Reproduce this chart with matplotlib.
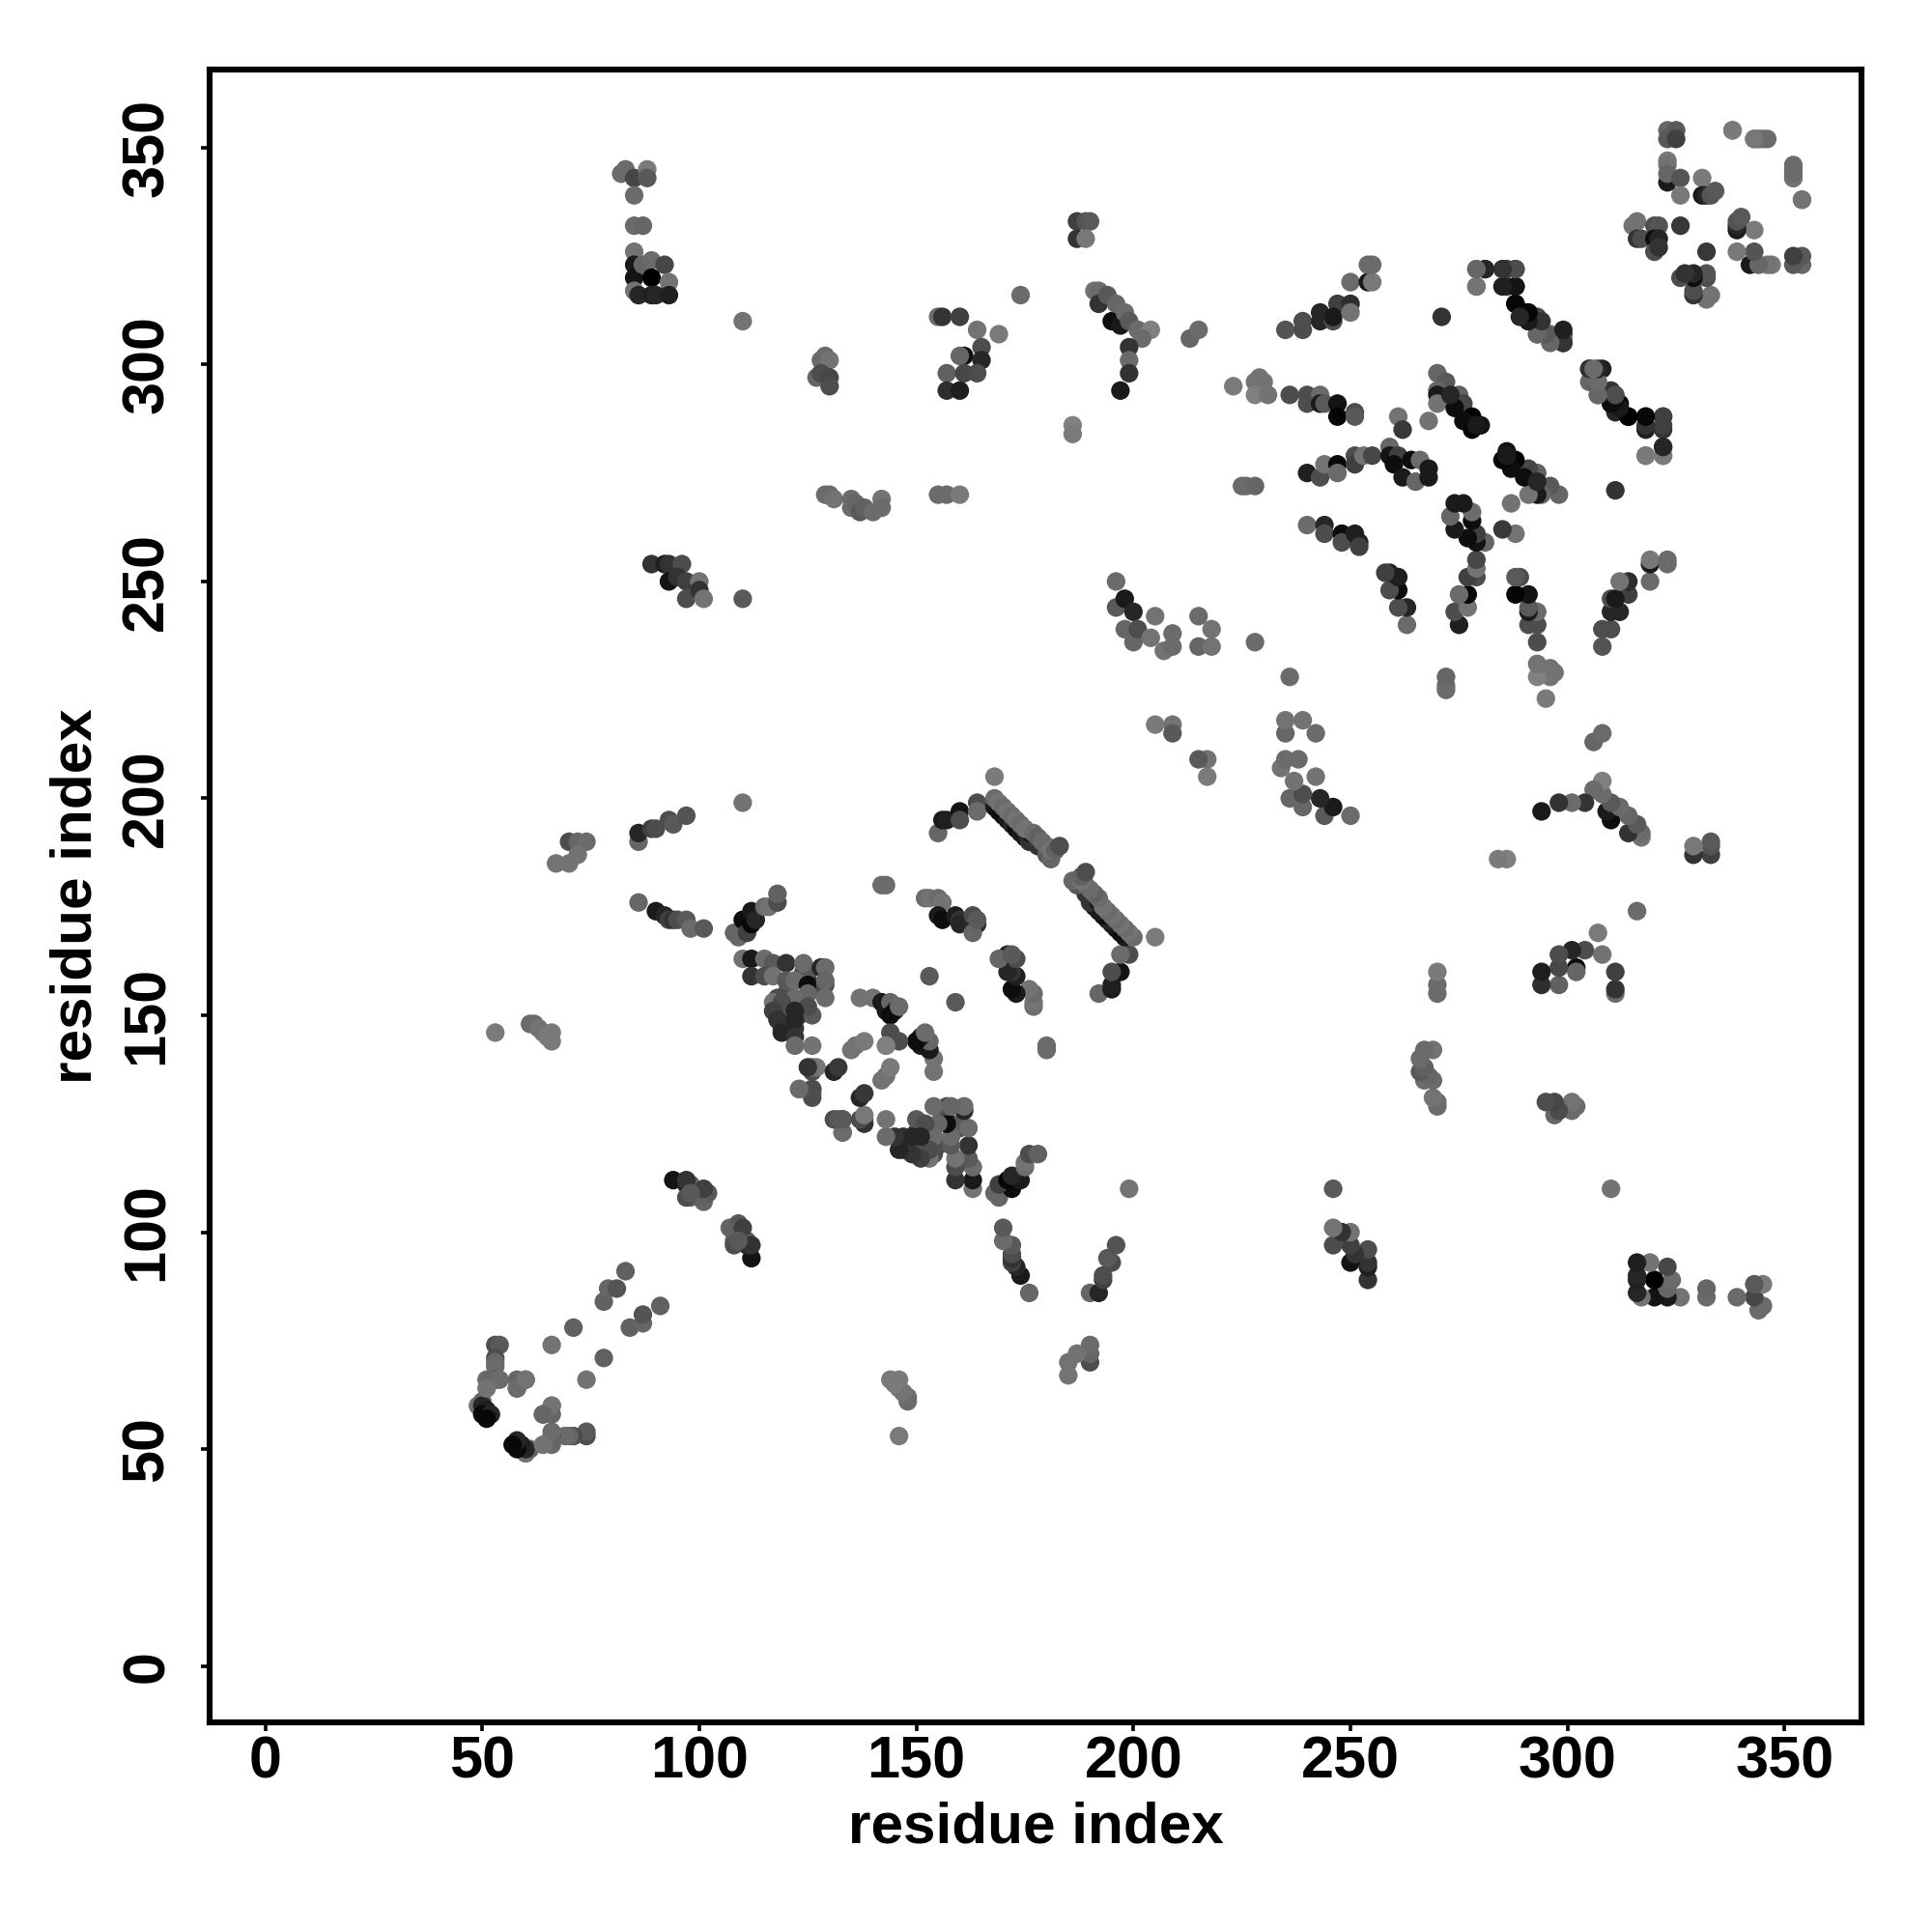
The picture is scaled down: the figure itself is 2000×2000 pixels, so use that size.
#contact map, residue index against residue index
#only one triangle is listed, the map is symmetric so every contact is drawn twice

import numpy as np
import matplotlib
matplotlib.use('Agg')
import matplotlib.pyplot as plt

plt.rcParams['font.family'] = ['Liberation Sans', 'DejaVu Sans']

#each block: first residue, second residue, grey level of the dot (0 black, 1 white)
#bottom left corner and the two thin strands going up from it
block_a = [
	(49,60,.45),(50,61,.4),(50,60,.15),(51,59,.12),(50,58,.04),(52,58,.15),(51,57,.03),
	(53,74,.3),(54,74,.35),(53,71,.3),(53,70,.4),(53,69,.42),(53,66,.3),(51,66,.42),(52,66,.4),(54,66,.42),
	(51,64,.45),(58,66,.4),(60,66,.45),(58,64,.4),(64,58,.42),(66,60,.45),
	(71,78,.38),(66,74,.45),(78,84,.38),(79,87,.4),(81,87,.33),(83,91,.38),
	(53,146,.48),(61,148,.42),(62,148,.42),(63,147,.45),(64,146,.45),(65,145,.48),(66,146,.48),(66,144,.48),
	(67,185,.45),(70,185,.45),(70,190,.3),(72,190,.4),(74,190,.42),(72,187,.45),
	(86,176,.4),(90,174,.1),(92,173,.15),(93,172,.25),(94,172,.2),(95,172,.3),(97,172,.35),(98,170,.42),(101,170,.35),
	(86,190,.4),(86,192,.15),(89,193,.25),(90,193,.3),(93,195,.3),(94,194,.35),(97,196,.33),
	(110,199,.45),(110,246,.35),(110,310,.45),
	(94,112,.08),(97,111,.15),(98,108,.42),(98,111,.38),(101,107,.4),(101,109,.1),(102,109,.35),
	(100,108,.38),(101,110,.25),(97,108,.3),(97,112,.2),(98,109,.35),
]
#top left block and its neighbours
block_b = [
	(82,344,.42),(83,345,.42),(85,343,.28),(88,345,.48),(88,343,.35),(85,339,.42),(85,332,.42),(87,332,.4),
	(85,326,.45),(85,323,.1),(85,320,.08),(85,317,.45),(86,316,.15),(87,323,.4),(89,324,.42),(92,323,.28),
	(89,320,.0),(93,319,.45),(89,316,.12),(90,316,.15),(93,316,.12),
	(89,254,.2),(92,254,.12),(93,254,.2),(96,254,.3),(93,250,.08),(95,251,.2),(97,250,.25),(100,250,.45),
	(97,246,.3),(100,248,.2),(101,246,.45),
	(127,297,.4),(128,301,.42),(129,302,.42),(130,301,.45),(128,298,.3),(130,297,.28),(130,295,.3),
	(129,270,.42),(130,270,.42),(131,269,.45),(135,269,.42),(135,267,.42),(136,268,.4),(137,266,.35),(138,267,.38),
	(140,266,.42),(142,269,.45),(142,267,.42),
	(155,270,.42),(157,270,.42),(160,270,.48),
	(155,311,.42),(156,311,.2),(160,311,.25),(164,308,.45),(169,307,.48),(165,304,.3),(161,302,.05),(160,302,.4),
	(165,301,.15),(157,298,.38),(161,298,.28),(164,298,.3),(157,294,.18),(160,294,.12),(174,316,.42),
]
#centre lower left: the strands around residues 110 to 205
block_c = [
	(108,169,.4),(109,168,.4),(110,172,.05),(111,169,.25),(112,171,.03),(112,174,.1),(113,172,.15),
	(115,175,.42),(116,175,.45),(118,176,.3),(118,178,.38),
	(119,147,.2),(119,150,.15),(118,154,.3),(120,150,.25),(122,147,.2),(123,150,.3),(120,152,.35),(120,155,.3),
	(124,160,.3),(125,158,.2),(125,160,.35),(127,156,.3),(126,150,.35),
	(110,163,.45),(112,163,.1),(115,163,.42),(117,162,.35),(120,162,.2),(124,162,.42),(128,161,.15),(129,161,.42),
	(112,159,.2),(115,159,.3),(117,159,.45),(120,158,.35),(122,158,.42),(125,157,.05),(129,157,.3),(129,158,.4),
	(129,154,.42),(125,155,.4),(122,154,.42),(117,153,.45),(119,153,.3),(125,152,.3),(122,151,.15),(117,151,.25),
	(118,149,.2),(122,149,.15),(119,146,.15),(122,145,.2),(122,143,.42),(126,143,.45),
	(135,142,.45),(136,143,.45),(138,144,.48),
	(123,133,.42),(126,132,.35),(126,133,.35),(126,137,.3),(127,138,.47),(131,137,.15),(132,138,.22),
	(133,126,.3),(131,126,.3),(133,123,.42),(138,126,.45),(138,125,.2),
	(142,180,.42),(143,180,.42),
	(152,177,.42),(153,177,.45),(155,177,.42),(156,176,.45),(155,173,.1),(156,172,.05),(159,173,.12),(160,172,.2),
	(160,171,.15),(163,173,.3),(164,171,.15),(163,169,.4),(164,172,.35),
	(137,154,.45),(140,154,.45),(142,153,.1),(143,151,.1),(144,153,.4),(145,151,.15),(144,150,.05),(146,152,.42),
	(144,146,.3),(143,143,.5),(153,159,.35),
	(155,192,.4),(156,195,.1),(157,195,.12),(160,197,.08),(160,195,.3),(164,199,.3),(164,197,.42),
	(168,205,.48),
	(168,198,.1),(169,197,.05),(170,196,.05),(171,195,.1),(172,194,.15),(173,193,.05),(174,192,.1),
	(175,191,.1),(176,190,.2),(176,192,.1),(178,189,.2),(180,187,.35),(181,186,.4),
	(168,200,.42),(169,199,.45),(170,198,.42),(171,197,.45),(172,196,.42),(173,195,.45),(174,194,.42),(175,193,.45),
	(177,192,.42),(178,191,.38),(179,190,.42),(180,189,.42),(181,188,.45),(182,188,.38),(183,189,.3),
]
#top middle: residues 185 to 255
block_d = [
	(187,333,.25),(189,333,.33),(190,333,.35),(187,329,.2),(189,329,.47),
	(186,286,.5),(186,284,.48),
	(191,317,.45),(192,317,.42),(192,314,.2),(194,316,.35),(195,310,.05),(196,314,.4),(197,309,.1),(198,312,.42),
	(199,310,.35),(201,308,.42),(204,308,.5),(202,306,.42),(199,304,.2),(199,301,.42),(199,298,.2),(197,294,.1),
	(196,250,.42),(196,244,.35),(198,246,.1),(200,243,.15),(198,239,.4),(200,236,.4),(201,239,.3),
	(204,237,.45),(205,242,.45),(207,234,.45),(209,238,.42),(209,235,.42),
	(205,217,.48),(209,217,.45),(209,215,.35),(213,306,.4),(215,308,.42),
	(215,242,.42),(218,239,.45),(215,235,.4),(218,235,.45),(228,236,.42),
	(223,295,.48),(228,296,.45),(230,296,.45),(228,293,.5),(231,293,.45),(229,297,.45),
	(225,272,.42),(226,272,.42),(228,272,.4),
	(235,308,.33),(239,308,.3),(239,310,.3),(243,312,.15),(243,310,.15),(246,310,.3),(247,314,.25),(246,311,.1),
	(250,314,.18),(250,312,.45),(250,319,.42),(254,319,.1),(255,319,.47),(254,323,.42),(255,323,.42),
	(236,293,.3),(240,293,.3),(240,291,.3),(243,293,.42),(243,291,.1),(244,291,.35),(247,291,.08),(247,288,.02),
	(251,289,.3),(251,288,.35),
	(240,275,.12),(243,274,.3),(244,277,.45),(247,277,.03),(247,275,.42),(251,279,.3),(251,277,.25),(253,279,.45),(255,279,.28),
	(240,263,.42),(244,263,.15),(244,261,.3),(248,261,.05),(248,259,.3),(251,261,.12),(252,259,.12),(252,258,.25),
]
#top right: residues 258 to 355
block_e = [
	(259,281,.4),(259,279,.08),(261,279,.25),(260,277,.05),(264,278,.05),(266,278,.42),(262,274,.1),(265,273,.4),
	(268,276,.1),(268,274,.1),(261,288,.45),(268,287,.45),(262,285,.22),
	(271,311,.2),
	(270,298,.4),(272,296,.35),(270,294,.4),(270,293,.1),(270,291,.45),(275,293,.38),(276,291,.28),(274,290,.05),
	(273,293,.15),(278,288,.02),(276,287,.05),(280,286,.08),(278,285,.02),(279,286,.1),
	(279,322,.48),(279,318,.48),(281,322,.15),(286,322,.25),(288,322,.25),(286,318,.2),(288,318,.03),(288,314,.0),
	(290,312,.1),(291,310,.05),(292,311,.05),(293,311,.3),(293,307,.4),(296,307,.42),(299,307,.15),(299,305,.2),(299,306,.42),
	(305,299,.2),(308,299,.12),(305,296,.4),(307,295,.35),(307,293,.4),(310,294,.2),(310,291,.1),(312,291,.02),
	(314,288,.02),(311,289,.15),(318,288,.08),(322,288,.3),(318,285,.12),(322,285,.2),
	(322,281,.15),(318,279,.45),(322,279,.4),
	(315,332,.45),(316,333,.45),(316,329,.2),(317,329,.3),(320,332,.3),(321,332,.33),(320,329,.05),(321,329,.15),
	(320,326,.3),(321,327,.2),(326,332,.22),
	(323,342,.1),(323,354,.4),(325,354,.35),(323,352,.35),(325,352,.25),(323,347,.47),(323,346,.45),(323,344,.4),
	(326,343,.33),(326,339,.47),(331,343,.48),(331,339,.1),(332,339,.15),(333,339,.33),(334,340,.35),
	(338,354,.45),(343,352,.45),(344,352,.42),(345,352,.42),(352,346,.42),(352,343,.47),(354,338,.48),
]

blocks = [block_a, block_b, block_c, block_d, block_e]

tick_vals = [0,50,100,150,200,250,300,350]
axis_label = 'residue index'

contacts = np.array([row for b in blocks for row in b])
res_i = contacts[:,0]
res_j = contacts[:,1]
shade = contacts[:,2]

fig = plt.figure(figsize=(10,10),dpi=200)
ax = fig.add_axes([217/2000.,1-1783/2000.,1710/2000.,1711/2000.])

xs = np.concatenate([res_i,res_j])
ys = np.concatenate([res_j,res_i])
greys = np.concatenate([shade,shade])
ax.scatter(xs,ys,s=48,c=[str(g) for g in greys],linewidths=0,zorder=3)

ax.set_xlim(-12.8,367.7)
ax.set_ylim(-13,368)
ax.set_xticks(tick_vals)
ax.set_yticks(tick_vals)
ax.tick_params(axis='both',length=3.2,width=1.3,labelsize=22)
ax.tick_params(axis='x',pad=1.7)
ax.tick_params(axis='y',pad=9.5)
for lab in ax.get_xticklabels()+ax.get_yticklabels():
	lab.set_fontweight('bold')
for lab in ax.get_yticklabels():
	lab.set_rotation(90)
	lab.set_va('center')
for sp in ax.spines.values():
	sp.set_linewidth(2.2)

ax.set_xlabel(axis_label,fontsize=21.7,fontweight='bold',va='center')
ax.set_ylabel(axis_label,fontsize=21.7,fontweight='bold',va='center')
ax.xaxis.set_label_coords(0.5,-0.0637)
ax.yaxis.set_label_coords(-0.0807,0.5)

fig.savefig('out.png',dpi=200)
